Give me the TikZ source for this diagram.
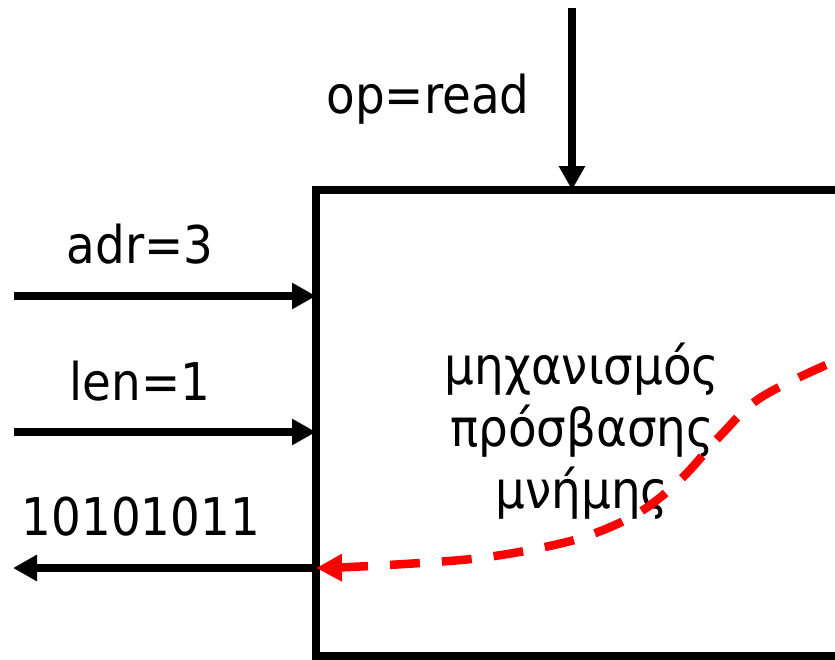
\documentclass[tikz,border=0pt]{standalone}
\usepackage{fontspec}
\newfontfamily\tah[FakeStretch=0.9]{DejaVu Sans}
\usetikzlibrary{arrows.meta}
\begin{document}
\begin{tikzpicture}[x=1pt,y=-1pt,
  lbl/.style={font=\tah\fontsize{52}{60}\selectfont, inner sep=0pt, anchor=base},
  sig/.style={line width=7.5pt, -{Triangle[length=24pt,width=25pt]}},
  flow/.style={draw=red, line width=8.5pt, dash pattern=on 30pt off 22pt, -{Triangle[length=26pt,width=26pt,fill=red]}},
  frame/.style={draw, line width=7.5pt, minimum width=584pt, minimum height=466pt, inner sep=0pt, outer sep=0pt}]
\useasboundingbox (0,0) rectangle (835,659);
\clip (0,0) rectangle (835,659);
\node[frame] (box) at (608,423) {};
% inputs
\coordinate (opS) at (572,8);
\coordinate (adrS) at (14,296);
\coordinate (lenS) at (14,432);
\coordinate (outE) at (13,568);
\draw[sig] (opS) -- (opS |- box.north);
\draw[sig] (adrS) -- (adrS -| box.west);
\draw[sig] (lenS) -- (lenS -| box.west);
\draw[sig] (outE -| box.west) -- (outE);
% labels
\node[lbl] (opL) at (428,113) {op=read};
\node[lbl] (adrL) at (140,263) {adr=3};
\node[lbl] (lenL) at (140,400) {len=1};
\node[lbl] (outL) at (141,535) {10101011};
\node[lbl] (g1) at (582,384) {μηχανισμός};
\node[lbl] (g2) at (582,446) {πρόσβασης};
\node[lbl] (g3) at (582,508) {μνήμης};
% red flow
\coordinate (rS) at (826,365);
\coordinate (rE) at (316,568);
\draw[flow] plot[smooth, tension=0.6] coordinates {(rS) (760,398) (720,436) (682,478) (640,512) (590,535) (540,548) (480,558) (420,563) (350,567) (rE)};
\end{tikzpicture}
\end{document}
